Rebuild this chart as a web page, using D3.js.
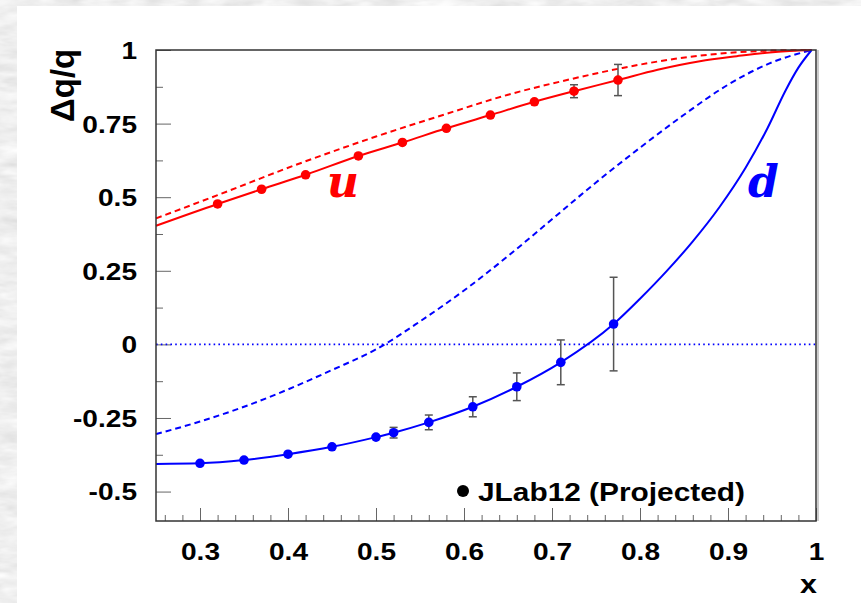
<!DOCTYPE html>
<html>
<head>
<meta charset="utf-8">
<script src="https://cdn.jsdelivr.net/npm/d3@7"></script>
<style>
  body { margin: 0; background: #fff; }
  svg { display: block; font-family: "Liberation Sans", Arial, sans-serif; }
</style>
</head>
<body>
<div id="chart"></div>
<script>
// projected JLab12 points
const uX = [0.32, 0.37, 0.42, 0.48, 0.53, 0.58, 0.63, 0.68, 0.725, 0.775];
const uY = [0.477, 0.527, 0.576, 0.640, 0.686, 0.734, 0.779, 0.824, 0.860, 0.898];
const uErr = [0.004, 0.004, 0.005, 0.006, 0.007, 0.008, 0.010, 0.013, 0.022, 0.053];

const dX = [0.30, 0.35, 0.40, 0.45, 0.50, 0.52, 0.56, 0.61, 0.66, 0.71, 0.77];
const dY = [-0.404, -0.393, -0.373, -0.348, -0.315, -0.300, -0.265, -0.212, -0.144, -0.061, 0.069];
const dErr = [0.004, 0.005, 0.006, 0.008, 0.011, 0.018, 0.025, 0.034, 0.047, 0.076, 0.159];

// solid curves (fit through the points)
const uFitX = [0.25, 0.32, 0.37, 0.42, 0.48, 0.53, 0.58, 0.63, 0.68, 0.725, 0.775, 0.82, 0.868, 0.91, 0.944, 0.97, 0.995];
const uFitY = [0.403, 0.477, 0.527, 0.576, 0.640, 0.686, 0.734, 0.779, 0.824, 0.860, 0.898, 0.933, 0.962, 0.979, 0.991, 0.997, 1.0];
const dFitX = [0.25, 0.30, 0.35, 0.40, 0.45, 0.50, 0.52, 0.56, 0.61, 0.66, 0.71, 0.77, 0.80, 0.83, 0.86, 0.89, 0.92, 0.945, 0.965, 0.98, 0.995];
const dFitY = [-0.406, -0.404, -0.393, -0.373, -0.348, -0.315, -0.300, -0.265, -0.212, -0.144, -0.061, 0.069, 0.155, 0.248, 0.350, 0.465, 0.600, 0.735, 0.860, 0.940, 1.0];

// dashed curves (model)
const uModX = [0.25, 0.32, 0.41, 0.50, 0.58, 0.65, 0.72, 0.78, 0.84, 0.90, 0.95, 0.995];
const uModY = [0.428, 0.507, 0.611, 0.706, 0.783, 0.848, 0.900, 0.939, 0.970, 0.990, 0.998, 1.0];
const dModX = [0.25, 0.30, 0.35, 0.40, 0.45, 0.50, 0.55, 0.60, 0.65, 0.70, 0.75, 0.80, 0.85, 0.90, 0.95, 0.995];
const dModY = [-0.305, -0.262, -0.212, -0.153, -0.087, -0.017, 0.078, 0.183, 0.300, 0.425, 0.550, 0.668, 0.780, 0.882, 0.958, 1.0];

const xTicks = [0.3, 0.4, 0.5, 0.6, 0.7, 0.8, 0.9, 1];
const yTicks = [-0.5, -0.25, 0, 0.25, 0.5, 0.75, 1];
const yTickLabels = ['-0.5', '-0.25', '0', '0.25', '0.5', '0.75', '1'];

const width = 861,
    height = 603,
    margin = { top: 50, right: 45, bottom: 82, left: 156 },
    red = '#ff0000',
    blue = '#0000ff',
    stretch = 1.17; // the source image is a bit wide

const svg = d3.select('#chart')
    .append('svg')
    .attr('width', width)
    .attr('height', height);

// marble-ish grey border behind the white sheet
const defs = svg.append('defs');
const filter = defs.append('filter').attr('id', 'marble')
    .attr('x', 0).attr('y', 0).attr('width', 1).attr('height', 1);
filter.append('feTurbulence')
    .attr('type', 'fractalNoise')
    .attr('baseFrequency', '0.035 0.11')
    .attr('numOctaves', 3)
    .attr('seed', 4);
filter.append('feColorMatrix')
    .attr('type', 'matrix')
    .attr('values', '0.22 0.22 0 0 0.64  0.22 0.22 0 0 0.64  0.22 0.22 0 0 0.64  0 0 0 0 1');

svg.append('rect')
    .attr('width', width).attr('height', height)
    .attr('filter', 'url(#marble)');
svg.append('rect')
    .attr('x', 17).attr('y', 6)
    .attr('width', width - 17).attr('height', height - 6)
    .attr('fill', '#fff');

const x = d3.scaleLinear()
    .domain([0.25, 1])
    .range([margin.left, width - margin.right]);
const y = d3.scaleLinear()
    .domain([-0.6, 1])
    .range([height - margin.bottom, margin.top]);

const zip = (xs, ys) => xs.map((v, i) => [v, ys[i]]);
const line = d3.line()
    .x(d => x(d[0]))
    .y(d => y(d[1]))
    .curve(d3.curveMonotoneX);

function stretchText(sel) {
    sel.each(function() {
        const t = d3.select(this);
        const tx = +t.attr('x') || 0, ty = +t.attr('y') || 0;
        t.attr('transform', `translate(${tx},${ty}) scale(${stretch},1)`)
            .attr('x', 0).attr('y', 0);
    });
}

// axes: ticks point inward, ROOT style
const yAxis = svg.append('g')
    .attr('transform', `translate(${margin.left},0)`)
    .call(d3.axisLeft(y).tickValues(yTicks).tickSize(-15).tickPadding(19)
        .tickFormat((d, i) => yTickLabels[i]));
svg.append('g')
    .attr('transform', `translate(${margin.left},0)`)
    .call(d3.axisLeft(y).tickValues(d3.range(-0.375, 1, 0.25)).tickSize(-7).tickFormat(''));

const xAxis = svg.append('g')
    .attr('transform', `translate(0,${height - margin.bottom})`)
    .call(d3.axisBottom(x).tickValues(xTicks).tickSize(-13).tickPadding(22)
        .tickFormat(d3.format('')));
svg.append('g')
    .attr('transform', `translate(0,${height - margin.bottom})`)
    .call(d3.axisBottom(x).tickValues(d3.range(0.26, 1, 0.02)).tickSize(-6).tickFormat(''));

svg.selectAll('.domain').remove();
svg.selectAll('.tick line').attr('stroke', '#666');
svg.selectAll('.tick text')
    .attr('font-size', 24)
    .attr('font-weight', 'bold')
    .attr('fill', '#000');
yAxis.selectAll('.tick text').attr('dy', '0.35em');
stretchText(yAxis.selectAll('.tick text'));
stretchText(xAxis.selectAll('.tick text'));

// zero line
svg.append('line')
    .attr('x1', x(0.25)).attr('x2', x(1))
    .attr('y1', y(0)).attr('y2', y(0))
    .attr('stroke', blue)
    .attr('stroke-width', 1.6)
    .attr('stroke-dasharray', '1.6,3.2');

// curves
const curves = [
    { pts: zip(uModX, uModY), color: red, dash: '6,4' },
    { pts: zip(dModX, dModY), color: blue, dash: '6,4' },
    { pts: zip(uFitX, uFitY), color: red, dash: null },
    { pts: zip(dFitX, dFitY), color: blue, dash: null }
];
svg.append('g').selectAll('path')
    .data(curves)
    .join('path')
    .attr('d', d => line(d.pts))
    .attr('fill', 'none')
    .attr('stroke', d => d.color)
    .attr('stroke-width', 2)
    .attr('stroke-dasharray', d => d.dash);

// data points with error bars
function drawPoints(xs, ys, errs, color) {
    const pts = xs.map((v, i) => ({ x: v, y: ys[i], e: errs[i] }));
    const g = svg.append('g');
    const bars = g.selectAll('g.err').data(pts).join('g').attr('class', 'err')
        .attr('stroke', '#555').attr('stroke-width', 1.5);
    bars.append('line')
        .attr('x1', d => x(d.x)).attr('x2', d => x(d.x))
        .attr('y1', d => y(d.y - d.e)).attr('y2', d => y(d.y + d.e));
    bars.filter(d => d.e > 0.015).selectAll('line.cap')
        .data(d => [d.y - d.e, d.y + d.e].map(v => ({ x: d.x, v })))
        .join('line').attr('class', 'cap')
        .attr('x1', d => x(d.x) - 4).attr('x2', d => x(d.x) + 4)
        .attr('y1', d => y(d.v)).attr('y2', d => y(d.v));
    g.selectAll('circle').data(pts).join('circle')
        .attr('cx', d => x(d.x)).attr('cy', d => y(d.y))
        .attr('r', 4.8)
        .attr('fill', color);
}
drawPoints(uX, uY, uErr, red);
drawPoints(dX, dY, dErr, blue);

// frame
svg.append('rect')
    .attr('x', x(0.25)).attr('y', y(1))
    .attr('width', x(1) - x(0.25)).attr('height', y(-0.6) - y(1))
    .attr('fill', 'none')
    .attr('stroke', '#333')
    .attr('stroke-width', 1.5);
svg.append('line')
    .attr('x1', x(1) + 2).attr('x2', x(1) + 2)
    .attr('y1', y(1)).attr('y2', y(-0.6))
    .attr('stroke', '#ccc').attr('stroke-width', 2);

// curve labels
svg.append('text')
    .attr('x', 327).attr('y', 197)
    .attr('font-family', '"DejaVu Serif", serif')
    .attr('font-size', 44).attr('font-weight', 'bold').attr('font-style', 'italic')
    .attr('fill', red)
    .text('u');
svg.append('text')
    .attr('x', 748).attr('y', 197)
    .attr('font-family', '"DejaVu Serif", serif')
    .attr('font-size', 44).attr('font-weight', 'bold').attr('font-style', 'italic')
    .attr('fill', blue)
    .text('d');

// axis titles
svg.append('text')
    .attr('transform', 'translate(74,122) rotate(-90)')
    .attr('font-size', 33).attr('font-weight', 'bold')
    .text('Δq/q');
svg.append('text')
    .attr('x', 800).attr('y', 593)
    .attr('font-size', 26).attr('font-weight', 'bold')
    .text('x')
    .call(stretchText);

// legend
svg.append('circle')
    .attr('cx', 463).attr('cy', 491).attr('r', 6)
    .attr('fill', '#000');
svg.append('text')
    .attr('x', 478).attr('y', 501)
    .attr('font-size', 25.5).attr('font-weight', 'bold')
    .text('JLab12 (Projected)')
    .call(stretchText);
</script>
</body>
</html>
